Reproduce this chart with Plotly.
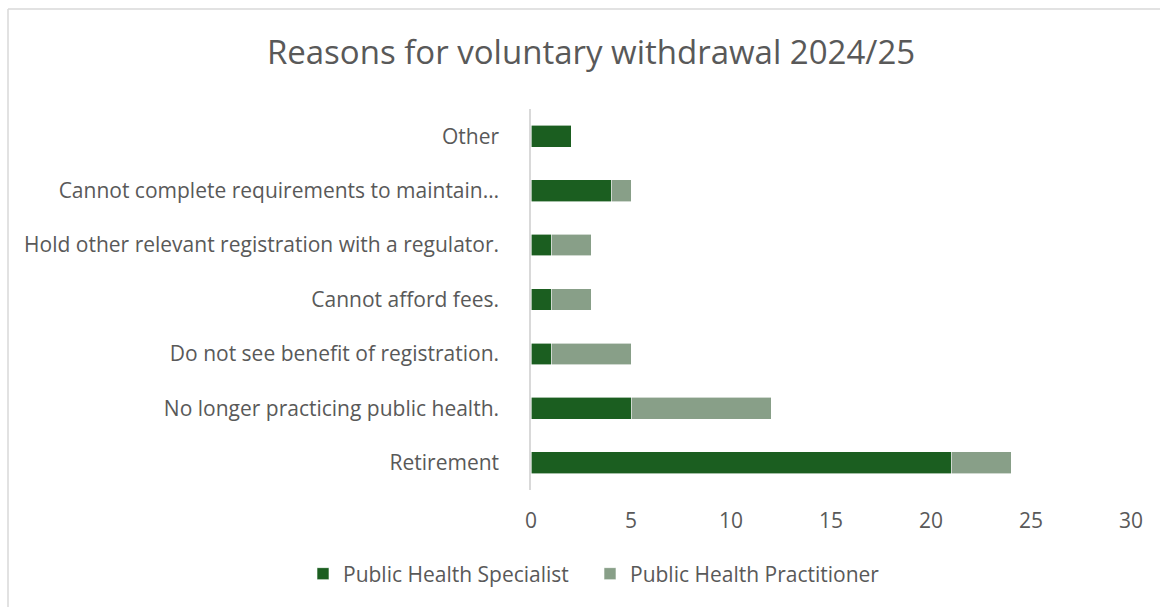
import plotly.graph_objects as go

# Withdrawal reasons, listed bottom to top as drawn on the y axis
reasons = [
    "Retirement",
    "No longer practicing public health.",
    "Do not see benefit of registration.",
    "Cannot afford fees.",
    "Hold other relevant registration with a regulator.",
    "Cannot complete requirements to maintain…",
    "Other",
]
specialist = [21, 5, 1, 1, 1, 4, 2]
practitioner = [3, 7, 4, 2, 2, 1, 0]

x_ticks = [0, 5, 10, 15, 20, 25, 30]

W, H = 1160, 607
ML, MR, MT, MB = 531, 29, 109, 117
PW, PH = W - ML - MR, H - MT - MB

FONT = "Open Sans, sans-serif"
TEXT = "#595959"
GRID = "#D9D9D9"


def px_x(p):
    return (p - ML) / PW


def px_y(p):
    return (H - MB - p) / PH


fig = go.Figure()
fig.add_trace(go.Bar(
    y=reasons, x=specialist, orientation="h", name="Public Health Specialist",
    marker=dict(color="#1B5E20", line=dict(color="#FFFFFF", width=0.6)),
    legend="legend", showlegend=True,
))
fig.add_trace(go.Bar(
    y=reasons, x=practitioner, orientation="h", name="Public Health Practitioner",
    marker=dict(color="#889F88", line=dict(color="#FFFFFF", width=0.6)),
    legend="legend2", showlegend=True,
))

# chart-area frame (top and left edges)
frame = dict(type="line", xref="paper", yref="paper",
             line=dict(color=GRID, width=1.5), layer="below")
fig.add_shape(**frame, x0=px_x(8), x1=px_x(8), y0=px_y(9), y1=px_y(H + 5))
fig.add_shape(**frame, x0=px_x(8), x1=px_x(W + 5), y0=px_y(9), y1=px_y(9))

legend_style = dict(orientation="h", xref="container", yref="container",
                    xanchor="left", y=1 - 574 / H, yanchor="middle",
                    font=dict(size=21, color=TEXT), itemwidth=30, visible=True)

fig.update_layout(
    width=W, height=H,
    showlegend=True,
    margin=dict(l=ML, r=MR, t=MT, b=MB, autoexpand=False),
    barmode="stack", bargap=0.6,
    plot_bgcolor="white", paper_bgcolor="white",
    font=dict(family=FONT, color=TEXT, size=21),
    title=dict(text="Reasons for voluntary withdrawal 2024/25",
               x=591 / W, xanchor="center", y=1 - 52 / H, yanchor="middle",
               xref="container", yref="container",
               font=dict(family=FONT, size=33, color=TEXT)),
    xaxis=dict(range=[0, 30], tickvals=x_ticks, showgrid=False, zeroline=False,
               showline=False, ticks="", ticklabelstandoff=16,
               tickfont=dict(size=21, color=TEXT)),
    yaxis=dict(showline=True, linecolor=GRID, linewidth=1.5, showgrid=False,
               ticks="", ticklabelstandoff=26, tickfont=dict(size=21, color=TEXT)),
    legend=dict(**legend_style, x=303 / W),
    legend2=dict(**legend_style, x=590 / W),
)

fig.write_html("out.html")
